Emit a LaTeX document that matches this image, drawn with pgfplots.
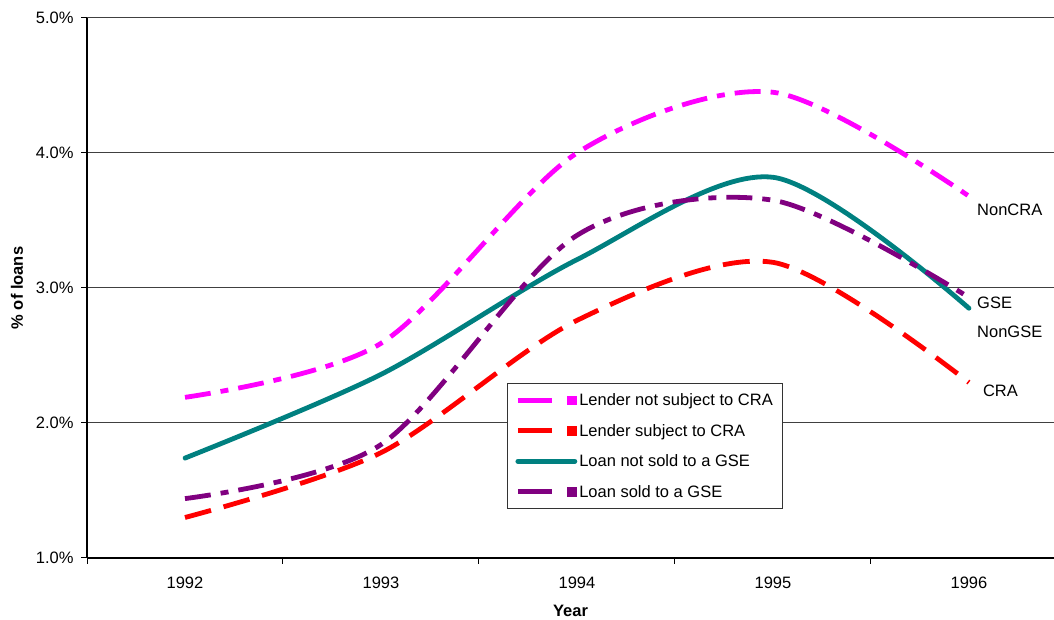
\documentclass[border=0pt]{standalone}
\usepackage{pgfplots}
\pgfplotsset{compat=1.18}
\usepackage{fontspec}
\setmainfont{Liberation Sans}
\definecolor{cmag}{RGB}{255,0,255}
\definecolor{cred}{RGB}{255,0,0}
\definecolor{cteal}{RGB}{0,128,128}
\definecolor{cpurp}{RGB}{128,0,128}
\newcommand{\fs}{\fontsize{16.5}{19}\selectfont}
\pgfplotsset{
  dashleg/.style={legend image code/.code={\draw[##1,solid] (0pt,0pt) -- (34pt,0pt); \fill[##1,solid] (52pt,-2.5pt) rectangle (57pt,2.5pt);}},
  solidleg/.style={legend image code/.code={\draw[##1] (0pt,0pt) -- (57pt,0pt);}},
}
\begin{document}
\begin{tikzpicture}[x=1pt,y=1pt]
\path[use as bounding box] (0,0) rectangle (1054,620);
\begin{axis}[
  at={(87pt,62pt)}, anchor=south west,
  scale only axis, width=967pt, height=540pt,
  xmin=1991.5, xmax=1996.434, ymin=1, ymax=5,
  clip=false,
  axis x line*=bottom, axis y line*=left,
  axis line style={-, black, line width=1.2pt},
  tick align=outside, major tick length=6pt,
  tick style={black, line width=1pt},
  xtick={1991.5,1992.5,1993.5,1994.5,1995.5}, xticklabels={},
  extra x ticks={1992,1993,1994,1995,1996},
  extra x tick labels={1992,1993,1994,1995,1996},
  extra x tick style={major tick length=0pt, grid=none, xticklabel style={yshift=-15pt}},
  ytick={1,2,3,4,5},
  yticklabels={1.0\%,2.0\%,3.0\%,4.0\%,5.0\%},
  yticklabel style={xshift=-4pt},
  ymajorgrids, major grid style={black!75, line width=1pt},
  /pgf/number format/assume math mode=true,
  tick label style={font=\fs},
  xlabel={\textbf{Year}}, ylabel={\textbf{\% of loans}},
  label style={font=\fs},
  xlabel style={yshift=-4pt},
  ylabel style={yshift=6pt},
  legend style={at={(0.4343,0.0907)}, anchor=south west, draw=black!80, line width=1pt, fill=white, font=\fs, row sep=13pt, inner xsep=8pt, inner ysep=8pt},
  legend cell align=left,
  every axis plot/.append style={line width=4.8pt, smooth, tension=0.5},
]
\addplot[cmag, dashleg, dash pattern=on 26pt off 10pt on 8pt off 10pt] coordinates {(1992,2.19) (1993,2.59) (1994,4.00) (1995,4.45) (1996,3.68)};
\addlegendentry{Lender not subject to CRA}
\addplot[cred, dashleg, dash pattern=on 27pt off 13pt] coordinates {(1992,1.30) (1993,1.78) (1994,2.76) (1995,3.19) (1996,2.30)};
\addlegendentry{Lender subject to CRA}
\addplot[cteal, solidleg, line cap=round] coordinates {(1992,1.74) (1993,2.36) (1994,3.21) (1995,3.82) (1996,2.85)};
\addlegendentry{Loan not sold to a GSE}
\addplot[cpurp, dashleg, dash pattern=on 26pt off 10pt on 8pt off 10pt] coordinates {(1992,1.44) (1993,1.84) (1994,3.39) (1995,3.65) (1996,2.93)};
\addlegendentry{Loan sold to a GSE}
\node[anchor=west, inner sep=0pt, font=\fs] at (axis cs:1996.041,3.578) {NonCRA};
\node[anchor=west, inner sep=0pt, font=\fs] at (axis cs:1996.041,2.889) {GSE};
\node[anchor=west, inner sep=0pt, font=\fs] at (axis cs:1996.041,2.674) {NonGSE};
\node[anchor=west, inner sep=0pt, font=\fs] at (axis cs:1996.071,2.237) {CRA};
\end{axis}
\end{tikzpicture}
\end{document}
